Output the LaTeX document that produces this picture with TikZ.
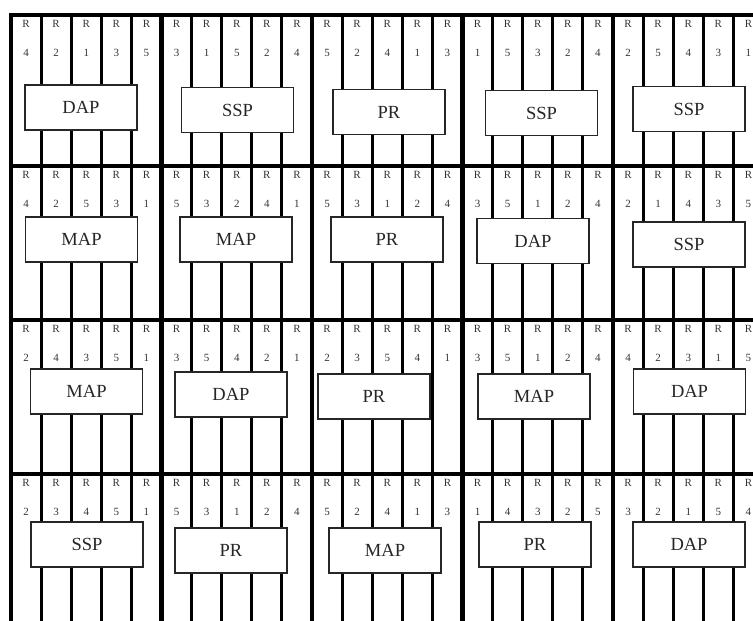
\documentclass[tikz,border=0pt]{standalone}
\usepackage{fontspec}
\setmainfont{Liberation Serif}
\usetikzlibrary{calc}

\begin{document}
\begin{tikzpicture}[x=1pt, y=-1pt, line cap=butt,
  seam/.style={black, line width=4.5pt},
  lane/.style={black, line width=3pt},
  rowline/.style={black, line width=3.5pt},
  tag/.style={text=black!80, inner sep=0pt, font=\fontsize{11}{13}\selectfont},
  unit/.style={draw=black!85, line width=1.4pt, fill=white, inner sep=0pt,
    minimum width=112pt, minimum height=45pt, text=black!85,
    font=\fontsize{18.5}{20}\selectfont}]

  \useasboundingbox (0,0) rectangle (753,621);
  \clip (0,0) rectangle (753,621);

  %% ---- lanes (thin) and block seams (thick) ----
  \foreach \c in {1,...,25}
    \draw[lane] ({11+30.1*\c},15) -- ({11+30.1*\c},625);
  \foreach \c in {0,5,10,15,20}
    \draw[seam] ({11+30.1*\c},15) -- ({11+30.1*\c},625);

  %% ---- row lines ----
  \draw[rowline] (9,15)  -- (760,15);
  \draw[rowline] (9,166) -- (760,166);
  \draw[rowline] (9,320) -- (760,320);
  \draw[rowline] (9,474) -- (760,474);

  %% ---- R / order labels, row 1 ----
  \foreach \n [count=\c] in {4,2,1,3,5, 3,1,5,2,4, 5,2,4,1,3, 1,5,3,2,4, 2,5,4,3,1}{
    \node[tag] (ra-\c) at ({11+30.1*(\c-0.5)},24) {R};
    \node[tag] (na-\c) at ({11+30.1*(\c-0.5)},53) {\n};
  }
  %% ---- row 2 ----
  \foreach \n [count=\c] in {4,2,5,3,1, 5,3,2,4,1, 5,3,1,2,4, 3,5,1,2,4, 2,1,4,3,5}{
    \node[tag] (rb-\c) at ({11+30.1*(\c-0.5)},175) {R};
    \node[tag] (nb-\c) at ({11+30.1*(\c-0.5)},204) {\n};
  }
  %% ---- row 3 ----
  \foreach \n [count=\c] in {2,4,3,5,1, 3,5,4,2,1, 2,3,5,4,1, 3,5,1,2,4, 4,2,3,1,5}{
    \node[tag] (rc-\c) at ({11+30.1*(\c-0.5)},329) {R};
    \node[tag] (nc-\c) at ({11+30.1*(\c-0.5)},358) {\n};
  }
  %% ---- row 4 ----
  \foreach \n [count=\c] in {2,3,4,5,1, 5,3,1,2,4, 5,2,4,1,3, 1,4,3,2,5, 3,2,1,5,4}{
    \node[tag] (rd-\c) at ({11+30.1*(\c-0.5)},483) {R};
    \node[tag] (nd-\c) at ({11+30.1*(\c-0.5)},512) {\n};
  }

  %% ---- process boxes ----
  \node[unit] (ua-1) at (81,107.5)   {DAP};
  \node[unit] (ua-2) at (237.5,110)  {SSP};
  \node[unit] (ua-3) at (389,112)    {PR};
  \node[unit] (ua-4) at (541.5,113)  {SSP};
  \node[unit] (ua-5) at (689,109)    {SSP};

  \node[unit] (ub-1) at (81.5,239.5) {MAP};
  \node[unit] (ub-2) at (236,239.5)  {MAP};
  \node[unit] (ub-3) at (387,239.5)  {PR};
  \node[unit] (ub-4) at (533,241)    {DAP};
  \node[unit] (ub-5) at (689,244.5)  {SSP};

  \node[unit] (uc-1) at (86.5,391.5) {MAP};
  \node[unit] (uc-2) at (231,394.5)  {DAP};
  \node[unit] (uc-3) at (374,396.5)  {PR};
  \node[unit] (uc-4) at (534,396.5)  {MAP};
  \node[unit] (uc-5) at (689.5,391.5) {DAP};

  \node[unit] (ud-1) at (87,544.5)   {SSP};
  \node[unit] (ud-2) at (231,550.5)  {PR};
  \node[unit] (ud-3) at (385,550.5)  {MAP};
  \node[unit] (ud-4) at (535,544.5)  {PR};
  \node[unit] (ud-5) at (689,544.5)  {DAP};

\end{tikzpicture}
\end{document}
